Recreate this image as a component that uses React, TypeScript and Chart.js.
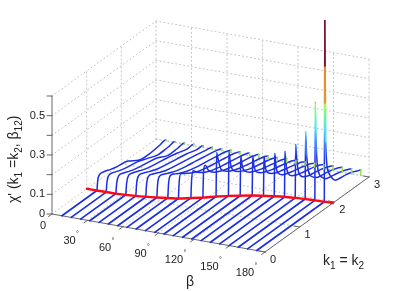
import React, { useEffect, useRef } from "react";
import { Chart, registerables } from "chart.js";

Chart.register(...registerables);

// Data
const betaValues = [8.4, 16.2, 24.1, 31.9, 39.8, 47.6, 55.5, 63.3, 71.1, 79, 86.8, 94.7, 102.5, 110.4, 118.2, 126, 133.9, 141.7, 149.6, 157.4, 165.3, 173];
const kCritical = [1.01, 1.01, 1.02, 1.04, 1.06, 1.08, 1.13, 1.18, 1.22, 1.31, 1.39, 1.5, 1.59, 1.66, 1.74, 1.8, 1.84, 1.87, 1.91, 1.93, 1.94, 1.95];
const redBeta = [0, 8.4, 24.1, 39.8, 55.5, 71.1, 86.8, 102.5, 118.2, 133.9, 149.6, 165.3, 180];
const redK = [1.01, 1.01, 1.02, 1.06, 1.13, 1.22, 1.39, 1.59, 1.74, 1.84, 1.91, 1.94, 1.96];
// position of each sample between k_c (0) and k = 3 (1)
const profileFractions = [0, 0.012, 0.04, 0.1, 0.2, 0.3, 0.45, 0.6, 0.75, 0.9, 1];
const zProfiles = [
  [0, 0.05, 0.072, 0.07, 0.057, 0.047, 0.036, 0.002, -0.006, 0, 0.004],
  [0, 0.05, 0.076, 0.074, 0.06, 0.05, 0.04, 0.02, 0, 0.002, 0.005],
  [0, 0.05, 0.08, 0.078, 0.064, 0.053, 0.042, 0.03, 0.004, 0.004, 0.006],
  [0, 0.055, 0.088, 0.086, 0.072, 0.058, 0.046, 0.036, 0.024, 0.008, 0.007],
  [0, 0.06, 0.092, 0.09, 0.074, 0.06, 0.048, 0.038, 0.028, 0.012, 0.008],
  [0, 0.06, 0.095, 0.092, 0.076, 0.062, 0.05, 0.04, 0.03, 0.018, 0.009],
  [0, 0.065, 0.098, 0.094, 0.078, 0.064, 0.051, 0.042, 0.032, 0.022, 0.01],
  [0, 0.07, 0.104, 0.098, 0.08, 0.066, 0.052, 0.043, 0.034, 0.024, 0.011],
  [0, 0.08, 0.118, 0.105, 0.084, 0.068, 0.054, 0.044, 0.035, 0.025, 0.012],
  [0, 0.09, 0.13, 0.11, 0.086, 0.07, 0.055, 0.045, 0.036, 0.026, 0.013],
  [0, 0.13, 0.156, 0.118, 0.088, 0.072, 0.056, 0.046, 0.037, 0.027, 0.014],
  [0, 0.22, 0.18, 0.118, 0.09, 0.074, 0.058, 0.047, 0.038, 0.028, 0.015],
  [0, 0.224, 0.16, 0.112, 0.088, 0.074, 0.058, 0.048, 0.039, 0.029, 0.016],
  [0, 0.2, 0.15, 0.108, 0.086, 0.074, 0.059, 0.049, 0.04, 0.03, 0.018],
  [0, 0.2, 0.145, 0.104, 0.084, 0.072, 0.059, 0.05, 0.041, 0.031, 0.019],
  [0, 0.2, 0.14, 0.102, 0.082, 0.07, 0.06, 0.051, 0.042, 0.032, 0.02],
  [0, 0.216, 0.15, 0.102, 0.08, 0.07, 0.06, 0.052, 0.043, 0.033, 0.021],
  [0, 0.231, 0.16, 0.104, 0.08, 0.07, 0.06, 0.053, 0.045, 0.034, 0.023],
  [0, 0.268, 0.19, 0.11, 0.08, 0.068, 0.06, 0.054, 0.046, 0.035, 0.024],
  [0, 0.34, 0.22, 0.12, 0.085, 0.068, 0.06, 0.055, 0.047, 0.036, 0.025],
  [0, 0.496, 0.26, 0.13, 0.09, 0.07, 0.062, 0.056, 0.048, 0.036, 0.026],
  [0, 0.92, 0.3, 0.147, 0.097, 0.07, 0.062, 0.058, 0.05, 0.036, 0.028],
];
const betaTicks = [0, 30, 60, 90, 120, 150, 180];
const kTicks = [0, 1, 2, 3];
const zTicks = [0, 0.1, 0.2, 0.3, 0.4, 0.5, 0.6];
const zLabels = ["0", "0.1", "", "0.3", "", "0.5", ""];

// Orthographic view of the 3-D box, in the units of the x and y scales
const BETA_MAX = 180;
const K_MAX = 3;
const Z_MAX = 0.6;
const project = (beta: number, k: number, z: number) => ({
  x: 52 + (beta / BETA_MAX) * 213 + (k / K_MAX) * 104,
  y: 214 + (beta / BETA_MAX) * 38 - (k / K_MAX) * 75 - (z / Z_MAX) * 118,
});

const FONT = '"Liberation Sans", Arial, sans-serif';
const BLUE = "#1c2ee0";
const GRID = "#c2c2c2";
const AXIS = "#666666";
const TIP = "#8fe84a";

const colorStops: [number, string][] = [
  [0, BLUE], [0.2, BLUE], [0.29, "#3f80ff"], [0.36, "#50dcff"], [0.45, "#70ff80"], [0.49, "#a0ff50"],
  [0.5, "#e8962f"], [0.68, "#e08a30"], [0.69, "#7a1232"], [1, "#701030"],
];

const segmentGradient = (canvas: CanvasRenderingContext2D, y0: number, y1: number, z0: number, z1: number) => {
  const gradient = canvas.createLinearGradient(0, y0, 0, y1);
  const lo = Math.min(z0, z1);
  const hi = Math.max(z0, z1);
  const position = (z: number) => (z - z0) / (z1 - z0);
  const color = (z: number) => {
    for (let i = 1; i < colorStops.length; i++) {
      if (z <= colorStops[i][0]) return colorStops[i][1];
    }
    return colorStops[colorStops.length - 1][1];
  };
  gradient.addColorStop(position(z0), color(z0));
  colorStops.forEach(([z, c]) => {
    if (z > lo && z < hi) gradient.addColorStop(position(z), c);
  });
  gradient.addColorStop(position(z1), color(z1));
  return gradient;
};

const dotted = (label: string, a: number[], b: number[]) => ({
  label,
  data: [project(a[0], a[1], a[2]), project(b[0], b[1], b[2])],
  borderColor: GRID,
  borderWidth: 1,
  borderDash: [1, 3],
  order: 100,
});
const solid = (label: string, points: { x: number; y: number }[], width = 1) => ({
  label,
  data: points,
  borderColor: AXIS,
  borderWidth: width,
  order: 60,
});

const buildDatasets = () => {
  const sets: any[] = [];
  zTicks.forEach((z) => {
    sets.push(dotted("wall", [0, 0, z], [0, K_MAX, z]));
    sets.push(dotted("wall", [0, K_MAX, z], [BETA_MAX, K_MAX, z]));
  });
  kTicks.slice(1).forEach((k) => {
    sets.push(dotted("wall", [0, k, 0], [0, k, Z_MAX]));
    sets.push(dotted("floor", [0, k, 0], [BETA_MAX, k, 0]));
  });
  betaTicks.slice(1).forEach((b) => {
    sets.push(dotted("wall", [b, K_MAX, 0], [b, K_MAX, Z_MAX]));
    sets.push(dotted("floor", [b, 0, 0], [b, K_MAX, 0]));
  });

  sets.push(solid("axis", [project(0, 0, 0), project(0, 0, Z_MAX)]));
  sets.push(solid("axis", [project(0, 0, 0), project(BETA_MAX, 0, 0)]));
  sets.push(solid("axis", [project(BETA_MAX, 0, 0), project(BETA_MAX, K_MAX, 0)]));
  zTicks.forEach((z) => {
    const p = project(0, 0, z);
    sets.push(solid("tick", [p, { x: p.x - 5, y: p.y }]));
  });
  betaTicks.forEach((b) => {
    sets.push(solid("tick", [project(b, 0, 0), project(b, -0.1, 0)]));
  });
  kTicks.forEach((k) => {
    sets.push(solid("tick", [project(BETA_MAX, k, 0), project(BETA_MAX - 5, k, 0)]));
  });

  betaValues.forEach((beta, i) => {
    const kc = kCritical[i];
    const zs = [...zProfiles[i], 0];
    const ks = [...profileFractions.map((f) => kc + f * (K_MAX - kc)), K_MAX];
    const last = zs.length - 1;
    sets.push({
      label: "floor " + beta,
      data: [project(beta, 0, 0), project(beta, kc, 0)],
      borderColor: BLUE,
      borderWidth: 1.7,
      order: 50,
    });
    sets.push({
      label: "beta " + beta,
      data: zs.map((z, j) => project(beta, ks[j], z)),
      borderColor: BLUE,
      borderWidth: 1.5,
      cubicInterpolationMode: "monotone",
      order: 50,
      segment: {
        borderColor: (c: any) => {
          if (c.p1DataIndex === last) return TIP;
          const z0 = zs[c.p0DataIndex];
          const z1 = zs[c.p1DataIndex];
          if (Math.max(z0, z1) <= 0.2) return BLUE;
          return segmentGradient(c.chart.ctx, c.p0.y, c.p1.y, z0, z1);
        },
      },
    });
  });

  sets.push({
    label: "critical",
    data: redBeta.map((b, i) => project(b, redK[i], 0)),
    borderColor: "#fa0a14",
    borderWidth: 2.4,
    cubicInterpolationMode: "monotone",
    order: 10,
  });
  return sets;
};

const drawRuns = (
  ctx: CanvasRenderingContext2D,
  runs: { t: string; size: number; dy?: number }[],
) => {
  let x = 0;
  runs.forEach((r) => {
    ctx.font = `${r.size}px ${FONT}`;
    ctx.fillText(r.t, x, r.dy || 0);
    x += ctx.measureText(r.t).width;
  });
};

const textPlugin = {
  id: "axisText",
  afterDatasetsDraw(chart: any) {
    const ctx: CanvasRenderingContext2D = chart.ctx;
    ctx.save();
    ctx.fillStyle = "#222222";
    ctx.textBaseline = "middle";
    ctx.font = `11px ${FONT}`;
    ctx.textAlign = "right";
    zTicks.forEach((z, i) => {
      if (!zLabels[i]) return;
      const p = project(0, 0, z);
      ctx.fillText(zLabels[i], 45, p.y);
    });
    ctx.textAlign = "center";
    betaTicks.forEach((b) => {
      const p = project(b, 0, 0);
      const x = p.x - (b >= 120 ? 20 : 18);
      const y = p.y + 21;
      ctx.font = `11px ${FONT}`;
      if (b === 0) {
        ctx.fillText("0", p.x - 9, p.y + 12);
        return;
      }
      ctx.fillText(String(b), x, y);
      ctx.font = `7px ${FONT}`;
      ctx.fillText("°", x + (b >= 100 ? 11 : 8), y - 7);
    });
    ctx.font = `11px ${FONT}`;
    kTicks.forEach((k) => {
      const p = project(BETA_MAX, k, 0);
      ctx.fillText(String(k), p.x + 8, p.y + 8);
    });
    ctx.font = `14px ${FONT}`;
    ctx.fillText("β", 190, 282);
    ctx.textAlign = "left";
    ctx.textBaseline = "alphabetic";
    ctx.save();
    ctx.translate(323, 265);
    drawRuns(ctx, [
      { t: "k", size: 14 },
      { t: "1", size: 10, dy: 3.5 },
      { t: " = k", size: 14 },
      { t: "2", size: 10, dy: 3.5 },
    ]);
    ctx.restore();
    ctx.save();
    ctx.translate(18, 203);
    ctx.rotate(-Math.PI / 2);
    drawRuns(ctx, [
      { t: "χ' (k", size: 14 },
      { t: "1", size: 10, dy: 3.5 },
      { t: " =k", size: 14 },
      { t: "2", size: 10, dy: 3.5 },
      { t: ", β", size: 14 },
      { t: "12", size: 10, dy: 3.5 },
      { t: ")", size: 14 },
    ]);
    ctx.restore();
    ctx.restore();
  },
};

export default function App() {
  const ref = useRef<HTMLCanvasElement>(null);
  useEffect(() => {
    if (!ref.current) return;
    const chart = new Chart(ref.current, {
      type: "line",
      data: { datasets: buildDatasets() },
      options: {
        animation: false,
        responsive: false,
        parsing: false,
        normalized: false,
        layout: { padding: 0 },
        elements: { point: { radius: 0 }, line: { tension: 0, capBezierPoints: true, borderCapStyle: "round" } },
        plugins: { legend: { display: false }, tooltip: { enabled: false }, title: { display: false } },
        scales: {
          x: { type: "linear", display: false, min: 0, max: 406 },
          y: { type: "linear", display: false, min: 0, max: 291, reverse: true },
        },
      } as any,
      plugins: [textPlugin],
    } as any);
    return () => chart.destroy();
  }, []);
  return (
    <div style={{ position: "fixed", left: 0, top: 0, width: 406, height: 291, background: "#fff" }}>
      <canvas ref={ref} width={406} height={291} style={{ display: "block" }} />
    </div>
  );
}
